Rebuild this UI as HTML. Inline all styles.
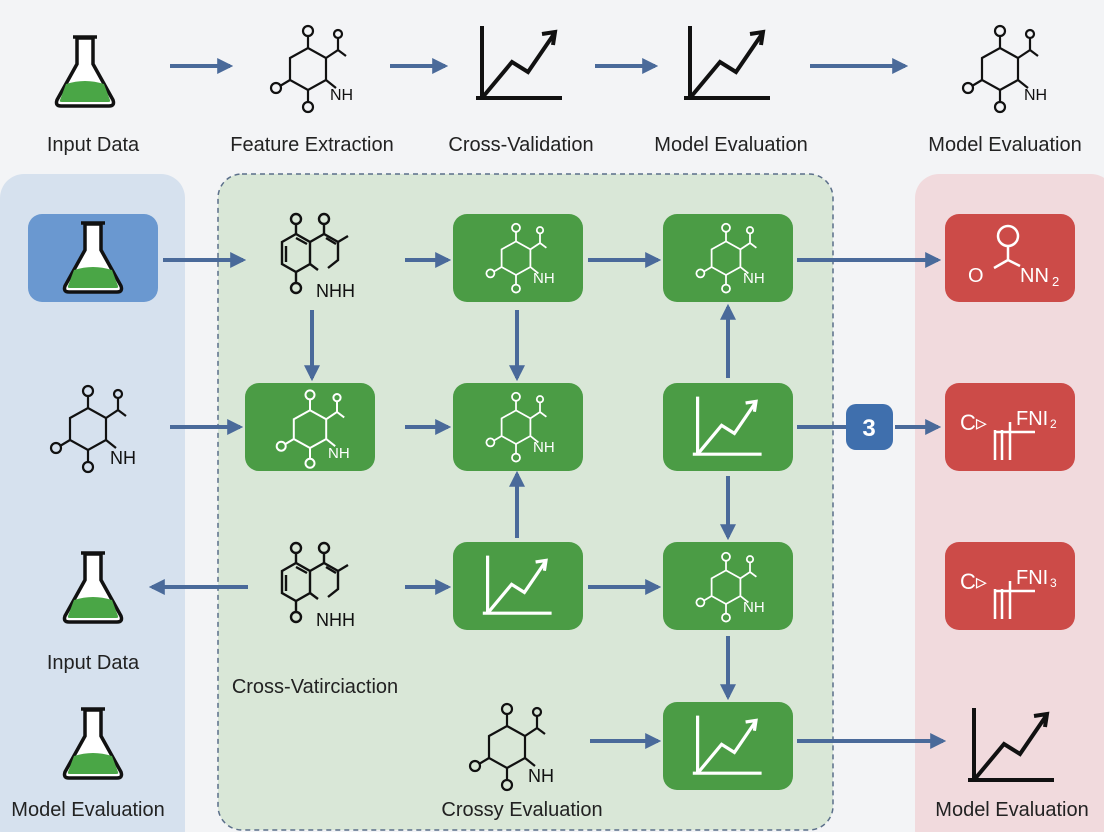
<!DOCTYPE html>
<html><head><meta charset="utf-8"><style>
html,body{margin:0;padding:0;background:#f3f4f6;}
svg{display:block;font-family:"Liberation Sans",sans-serif;}
</style></head><body>
<svg width="1104" height="832" viewBox="0 0 1104 832" xmlns="http://www.w3.org/2000/svg">
<defs>
<marker id="ah" viewBox="0 0 10 10" refX="8" refY="5" markerWidth="4" markerHeight="4" orient="auto-start-reverse"><path d="M0,0 L10,5 L0,10 z" fill="#4a6a9a"/></marker>
<g id="mol" fill="none" stroke-width="2.2">
<path d="M-18,-12 L0,-22 L18,-12 L18,10 L0,20 L-18,10 Z"/>
<path d="M0,-22 L0,-34"/><circle cx="0" cy="-39" r="5"/>
<path d="M18,-12 L30,-20 L30,-32 M30,-20 L38,-14"/><circle cx="30" cy="-36" r="4"/>
<path d="M-18,10 L-28,16"/><circle cx="-32" cy="18" r="5"/>
<path d="M0,20 L0,32"/><circle cx="0" cy="37" r="5"/>
<path d="M18,10 L28,18"/>
</g>
<g id="nap" fill="none" stroke="#111" stroke-width="2.4">
<path d="M-30,-16 L-16,-24 L-2,-16 L-2,6 L-16,14 L-30,6 Z M-26,-12 L-26,4 M-16,-20 L-5,-14"/>
<path d="M-2,-16 L12,-24 L26,-16 L26,2 L16,10 M-2,6 L6,12 M14,-20 L24,-14 M26,-16 L36,-22"/>
<path d="M-16,-24 L-16,-34 M12,-24 L12,-34 M-16,14 L-16,24"/>
<circle cx="-16" cy="-39" r="5"/><circle cx="12" cy="-39" r="5"/><circle cx="-16" cy="30" r="5"/>
</g>
<g id="chart" fill="none" stroke-width="4">
<path d="M-38,-38 L-38,36 M-44,34 L42,34"/>
<path d="M-38,34 L-8,-2 L8,8 L34,-30 M22,-30 L35,-32 L33,-19"/>
</g>
<g id="flask">
<path d="M-8,-34 L-8,-8 L-28,28 Q-30,34 -24,34 L24,34 Q30,34 28,28 L8,-8 L8,-34 Z" fill="#fff" stroke="#111" stroke-width="3.5"/>
<path d="M-12,-35 L12,-35" stroke="#111" stroke-width="3.5"/>
<path d="M-19,12 Q0,6 19,12 L25,28 Q26,30 23,30 L-23,30 Q-26,30 -25,28 Z" fill="#4aa646"/>
</g>
</defs>

<!-- panels -->
<rect x="0" y="174" width="185" height="680" rx="24" fill="#d6e1ee"/>
<rect x="218" y="174" width="615" height="656" rx="24" fill="#d9e7d7" stroke="#5b6f8a" stroke-width="1.5" stroke-dasharray="5,4"/>
<rect x="915" y="174" width="200" height="680" rx="24" fill="#f1dadd"/>

<!-- top row -->
<use href="#flask" x="85" y="72"/>
<g stroke="#111"><use href="#mol" x="308" y="70" stroke="#111"/></g>
<text x="330" y="100" font-size="16" fill="#111">NH</text>
<use href="#chart" x="520" y="64" stroke="#111"/>
<use href="#chart" x="728" y="64" stroke="#111"/>
<use href="#mol" x="1000" y="70" stroke="#111"/>
<text x="1024" y="100" font-size="16" fill="#111">NH</text>
<g stroke="#4a6a9a" stroke-width="4" marker-end="url(#ah)">
<line x1="170" y1="66" x2="230" y2="66"/><line x1="390" y1="66" x2="445" y2="66"/>
<line x1="595" y1="66" x2="655" y2="66"/><line x1="810" y1="66" x2="905" y2="66"/>
</g>
<g font-size="20" fill="#222" text-anchor="middle">
<text x="93" y="151">Input Data</text><text x="312" y="151">Feature Extraction</text>
<text x="521" y="151">Cross-Validation</text><text x="731" y="151">Model Evaluation</text>
<text x="1005" y="151">Model Evaluation</text>
</g>

<!-- boxes -->
<rect x="28" y="214" width="130" height="88" rx="14" fill="#6a98d0"/>
<use href="#flask" x="93" y="258"/>
<g fill="#4b9c45">
<rect x="245" y="383" width="130" height="88" rx="14"/>
<rect x="453" y="214" width="130" height="88" rx="14"/>
<rect x="453" y="383" width="130" height="88" rx="14"/>
<rect x="453" y="542" width="130" height="88" rx="14"/>
<rect x="663" y="214" width="130" height="88" rx="14"/>
<rect x="663" y="383" width="130" height="88" rx="14"/>
<rect x="663" y="542" width="130" height="88" rx="14"/>
<rect x="663" y="702" width="130" height="88" rx="14"/>
</g>
<g fill="#cc4b48">
<rect x="945" y="214" width="130" height="88" rx="14"/>
<rect x="945" y="383" width="130" height="88" rx="14"/>
<rect x="945" y="542" width="130" height="88" rx="14"/>
</g>
<g stroke="#fff">
<use href="#mol" x="310" y="430" transform="translate(310,430) scale(0.9) translate(-310,-430)"/>
<use href="#mol" x="516" y="259" transform="translate(516,259) scale(0.8) translate(-516,-259)"/>
<use href="#mol" x="516" y="428" transform="translate(516,428) scale(0.8) translate(-516,-428)"/>
<use href="#mol" x="726" y="259" transform="translate(726,259) scale(0.8) translate(-726,-259)"/>
<use href="#mol" x="726" y="588" transform="translate(726,588) scale(0.8) translate(-726,-588)"/>
<use href="#chart" x="518" y="586" transform="translate(518,586) scale(0.8) translate(-518,-586)"/>
<use href="#chart" x="728" y="427" transform="translate(728,427) scale(0.8) translate(-728,-427)"/>
<use href="#chart" x="728" y="746" transform="translate(728,746) scale(0.8) translate(-728,-746)"/>
</g>
<g font-size="15" fill="#fff">
<text x="328" y="458">NH</text><text x="533" y="452">NH</text><text x="533" y="283">NH</text>
<text x="743" y="283">NH</text><text x="743" y="612">NH</text>
</g>
<!-- red box contents -->
<g fill="none" stroke="#fff" stroke-width="2.5">
<circle cx="1008" cy="236" r="10"/><path d="M1008,246 L1008,260 L994,268 M1008,260 L1020,266"/>
</g>
<g fill="#fff" font-size="20"><text x="968" y="282">O</text><text x="1020" y="282">NN</text><text x="1052" y="286" font-size="13">2</text></g>
<g fill="#fff"><text x="960" y="430" font-size="22">C▹</text><text x="1016" y="425" font-size="20">FNI</text><text x="1050" y="428" font-size="12">2</text>
<text x="960" y="589" font-size="22">C▹</text><text x="1016" y="584" font-size="20">FNI</text><text x="1050" y="587" font-size="12">3</text></g>
<g stroke="#fff" stroke-width="2.5" fill="none"><path d="M995,460 L995,430 M1002,460 L1002,430 M1010,460 L1010,422 M995,432 L1035,432"/>
<path d="M995,619 L995,589 M1002,619 L1002,589 M1010,619 L1010,581 M995,591 L1035,591"/></g>

<!-- black molecules in panels -->
<use href="#nap" x="312" y="258"/><text x="316" y="297" font-size="18" fill="#111">NHH</text>
<use href="#nap" x="312" y="587"/><text x="316" y="626" font-size="18" fill="#111">NHH</text>
<use href="#mol" x="88" y="430" stroke="#111"/><text x="110" y="464" font-size="18" fill="#111">NH</text>
<use href="#mol" x="507" y="748" stroke="#111"/><text x="528" y="782" font-size="18" fill="#111">NH</text>
<use href="#flask" x="93" y="588"/>
<use href="#flask" x="93" y="744"/>
<use href="#chart" x="1012" y="746" stroke="#111" stroke-width="5"/>

<!-- badge -->
<rect x="846" y="404" width="47" height="46" rx="10" fill="#3f6fad"/>
<text x="869" y="436" font-size="24" font-weight="bold" fill="#fff" text-anchor="middle">3</text>

<!-- arrows -->
<g stroke="#4a6a9a" stroke-width="4" marker-end="url(#ah)">
<line x1="163" y1="260" x2="243" y2="260"/><line x1="405" y1="260" x2="448" y2="260"/>
<line x1="588" y1="260" x2="658" y2="260"/><line x1="797" y1="260" x2="938" y2="260"/>
<line x1="312" y1="310" x2="312" y2="378"/><line x1="517" y1="310" x2="517" y2="378"/>
<line x1="728" y1="378" x2="728" y2="307"/>
<line x1="170" y1="427" x2="240" y2="427"/><line x1="405" y1="427" x2="448" y2="427"/>
<line x1="895" y1="427" x2="938" y2="427"/>
<line x1="517" y1="538" x2="517" y2="474"/><line x1="728" y1="476" x2="728" y2="537"/>
<line x1="248" y1="587" x2="152" y2="587"/><line x1="405" y1="587" x2="448" y2="587"/>
<line x1="588" y1="587" x2="658" y2="587"/><line x1="728" y1="636" x2="728" y2="697"/>
<line x1="590" y1="741" x2="658" y2="741"/><line x1="797" y1="741" x2="943" y2="741"/>
</g>
<line x1="797" y1="427" x2="846" y2="427" stroke="#4a6a9a" stroke-width="4"/>

<g font-size="20" fill="#222" text-anchor="middle">
<text x="93" y="669">Input Data</text><text x="88" y="816">Model Evaluation</text>
<text x="315" y="693">Cross-Vatirciaction</text><text x="522" y="816">Crossy Evaluation</text>
<text x="1012" y="816">Model Evaluation</text>
</g>
</svg>
</body></html>
